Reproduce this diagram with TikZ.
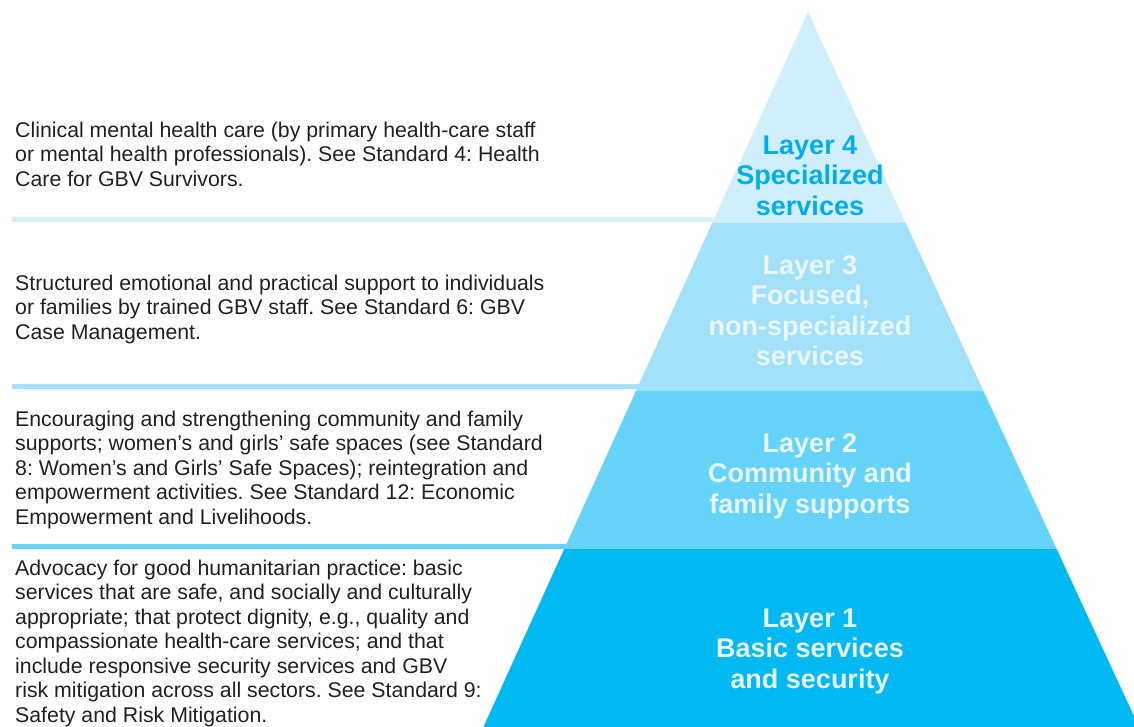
\documentclass[tikz,border=0pt]{standalone}
\usepackage{fontspec}
\setmainfont{Liberation Sans}
\frenchspacing
\definecolor{cfour}{HTML}{D1EEFC}
\definecolor{cthree}{HTML}{A3E0FA}
\definecolor{ctwo}{HTML}{66D3FA}
\definecolor{cone}{HTML}{00B9F3}
\definecolor{lblfour}{HTML}{00AEEF}
\definecolor{lbllight}{HTML}{E8F7FE}
\definecolor{bodytxt}{HTML}{231F20}
\tikzset{
  desc/.style={anchor=north west, inner sep=0pt, align=left, text=bodytxt,
    font=\fontsize{21.3}{24.5}\selectfont},
  layerlbl/.style={anchor=north, inner sep=0pt, align=center,
    font=\fontsize{27}{30.5}\selectfont\bfseries},
  sepline/.style={line width=5pt}
}
\begin{document}
\begin{tikzpicture}[x=1pt,y=-1pt]
\useasboundingbox (0,0) rectangle (1134,727);
% pyramid layers
\fill[cfour]  (808,12) -- (905.7,223) -- (712.2,223) -- cycle;
\fill[cthree] (712.2,223) -- (905.7,223) -- (983.5,391) -- (635.9,391) -- cycle;
\fill[ctwo]   (635.9,391) -- (983.5,391) -- (1056.6,549) -- (564.2,549) -- cycle;
\fill[cone]   (564.2,549) -- (1056.6,549) -- (1139,727) -- (483.4,727) -- cycle;
% separator lines
\coordinate (s4a) at (12,220);
\coordinate (s4b) at (713,220);
\coordinate (s3a) at (12,386);
\coordinate (s3b) at (639,386);
\coordinate (s2a) at (12,546);
\coordinate (s2b) at (566,546);
\draw[sepline, cfour] (s4a) -- (s4b);
\draw[sepline, cthree] (s3a) -- (s3b);
\draw[sepline, ctwo] (s2a) -- (s2b);
% descriptions
\node[desc] (d4) at (15,119.9) {\strut Clinical mental health care (by primary health-care staff\\
or mental health professionals). See Standard 4: Health\\
Care for GBV Survivors.};
\node[desc] (d3) at (15,272.9) {\strut Structured emotional and practical support to individuals\\
or families by trained GBV staff. See Standard 6: GBV\\
Case Management.};
\node[desc] (d2) at (15,408.9) {\strut Encouraging and strengthening community and family\\
supports; women’s and girls’ safe spaces (see Standard\\
8: Women’s and Girls’ Safe Spaces); reintegration and\\
empowerment activities. See Standard 12: Economic\\
Empowerment and Livelihoods.};
\node[desc] (d1) at (15,557.9) {\strut Advocacy for good humanitarian practice: basic\\
services that are safe, and socially and culturally\\
appropriate; that protect dignity, e.g., quality and\\
compassionate health-care services; and that\\
include responsive security services and GBV\\
risk mitigation across all sectors. See Standard 9:\\
Safety and Risk Mitigation.};
% layer labels
\node[layerlbl, text=lblfour] (l4) at (810,132.6) {\strut Layer 4\\Specialized\\services};
\node[layerlbl, text=lbllight] (l3) at (810,252.6) {\strut Layer 3\\Focused,\\non-specialized\\services};
\node[layerlbl, text=lbllight] (l2) at (810,430.6) {\strut Layer 2\\Community and\\family supports};
\node[layerlbl, text=lbllight] (l1) at (810,605.6) {\strut Layer 1\\Basic services\\and security};
\end{tikzpicture}
\end{document}
